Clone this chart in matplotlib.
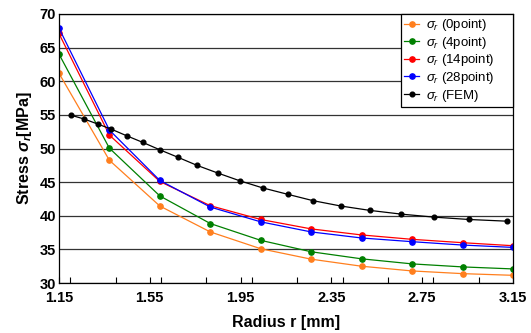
import numpy as np
import matplotlib
matplotlib.use('Agg')
import matplotlib.pyplot as plt
from matplotlib.ticker import MultipleLocator

plt.rcParams['font.family'] = 'Liberation Sans'
plt.rcParams['mathtext.fontset'] = 'custom'
plt.rcParams['mathtext.rm'] = 'Liberation Sans'
plt.rcParams['mathtext.it'] = 'Liberation Sans:italic'
plt.rcParams['mathtext.bf'] = 'Liberation Sans:bold'
plt.rcParams['mathtext.bfit'] = 'Liberation Sans:italic:bold'

# model points (10 evenly spaced radii)
r_model = np.linspace(1.15, 3.15, 10)
s_0pt = [61.2, 48.25, 41.45, 37.6, 35.1, 33.55, 32.5, 31.8, 31.4, 31.15]
s_4pt = [64.05, 50.05, 42.95, 38.85, 36.35, 34.65, 33.6, 32.85, 32.4, 32.1]
s_14pt = [67.1, 52.0, 45.1, 41.5, 39.45, 38.05, 37.15, 36.5, 36.0, 35.55]
s_28pt = [67.9, 52.75, 45.25, 41.3, 39.1, 37.6, 36.7, 36.15, 35.65, 35.3]

# FEM element values
r_fem = [1.203, 1.260, 1.320, 1.379, 1.448, 1.520, 1.595, 1.674, 1.758, 1.850,
         1.947, 2.047, 2.157, 2.269, 2.392, 2.520, 2.657, 2.802, 2.956, 3.122]
s_fem = [54.95, 54.4, 53.65, 52.9, 51.9, 50.9, 49.8, 48.7, 47.5, 46.35,
         45.2, 44.15, 43.2, 42.25, 41.45, 40.8, 40.25, 39.8, 39.45, 39.2]

xticks = [1.15, 1.55, 1.95, 2.35, 2.75, 3.15]

fig = plt.figure(figsize=(5.31, 3.33), dpi=100)
ax = fig.add_axes([0.111, 0.150, 0.855, 0.808])

kw = dict(marker='o', markersize=3.8, linewidth=0.9)
pad = '     '
ax.plot(r_model, s_0pt, color='#ff7f1e', label=r'$\sigma_r$ (0point)' + pad, **kw)
ax.plot(r_model, s_4pt, color='#008000', label=r'$\sigma_r$ (4point)' + pad, **kw)
ax.plot(r_model, s_14pt, color='#ff0000', label=r'$\sigma_r$ (14point)' + pad, **kw)
ax.plot(r_model, s_28pt, color='#0000ff', label=r'$\sigma_r$ (28point)' + pad, **kw)
ax.plot(r_fem, s_fem, color='black', marker='o', markersize=3.4, linewidth=0.9,
        label=r'$\sigma_r$ (FEM)' + pad)

ax.set_xlim(1.15, 3.15)
ax.set_ylim(30, 70)
ax.set_xticks(xticks)
ax.xaxis.set_minor_locator(MultipleLocator(0.2))
ax.yaxis.set_major_locator(MultipleLocator(5))
ax.yaxis.grid(True, color='#333333', linewidth=0.9)
ax.set_axisbelow(True)
ax.tick_params(axis='x', which='both', direction='in', length=4, width=0.8,
               labelsize=10.5, pad=6)
ax.tick_params(axis='y', length=0, labelsize=10.5, pad=2)
for lab in ax.get_xticklabels() + ax.get_yticklabels():
    lab.set_fontweight('bold')
for sp in ax.spines.values():
    sp.set_linewidth(0.9)

ax.set_xlabel('Radius r [mm]', fontsize=11.5, fontweight='bold', labelpad=7)
ax.set_ylabel(r'Stress $\mathbfit{\sigma_r}$[MPa]', fontsize=11.5,
              fontweight='bold', labelpad=4)

leg = ax.legend(loc='upper right', fontsize=9.5, frameon=True, fancybox=False,
                edgecolor='black', framealpha=1, handlelength=1.1,
                borderaxespad=0.0, labelspacing=0.12, handletextpad=0.5,
                borderpad=0.25)
leg.get_frame().set_linewidth(0.9)

fig.savefig('out.png', dpi=100)
